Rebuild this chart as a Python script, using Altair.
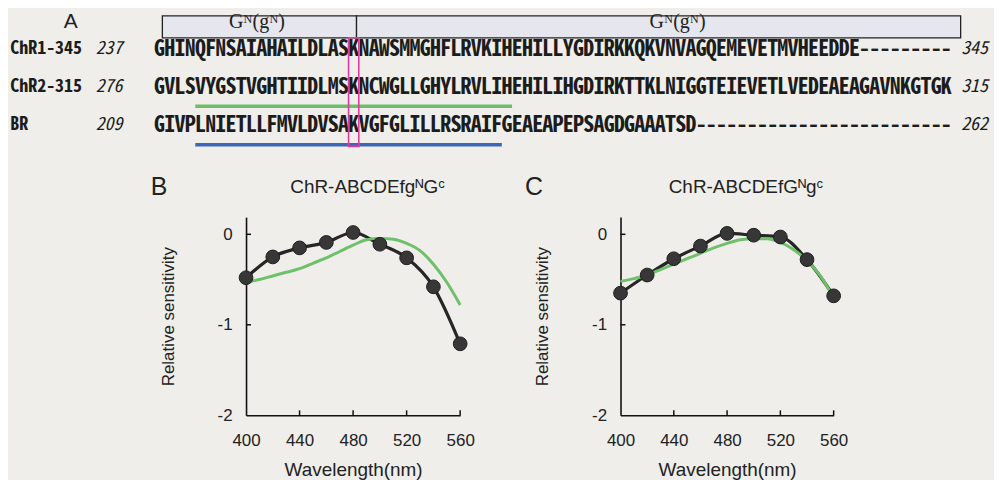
import altair as alt
import pandas as pd

# ---------------- Panel A : alignment ----------------
seq_names = ["ChR1-345", "ChR2-315", "BR"]
seq_start = ["237", "276", "209"]
seq_end = ["345", "315", "262"]
sequences = [
    "GHINQFNSAIAHAILDLASKNAWSMMGHFLRVKIHEHILLYGDIRKKQKVNVAGQEMEVETMVHEEDDE---------",
    "GVLSVYGSTVGHTIIDLMSKNCWGLLGHYLRVLIHEHILIHGDIRKTTKLNIGGTEIEVETLVEDEAEAGAVNKGTGK",
    "GIVPLNIETLLFMVLDVSAKVGFGLILLRSRAIFGEAEAPEPSAGDGAAATSD-------------------------",
]
rows = [0.0, 1.0, 2.0]

# header boxes (column units)
box_start = [0.78, 19.78]
box_end = [19.78, 78.9]
box_label = ["G\u1d3a(g\u1d3a)", "G\u1d3a(g\u1d3a)"]
box_label_col = [10.04, 51.2]

# underlines (row index, first column, last column+1)
ul_row = [1, 2]
ul_from = [4, 4]
ul_to = [35, 34]
ul_color = ["#6dbd6a", "#3c66b8"]

k_col = 19  # conserved K

# ---------------- Panels B, C : spectra ----------------
wl = [400, 420, 440, 460, 480, 500, 520, 540, 560]
b_meas = [-0.48, -0.25, -0.15, -0.09, 0.02, -0.11, -0.26, -0.58, -1.21]
c_meas = [-0.65, -0.45, -0.27, -0.13, 0.01, -0.01, -0.03, -0.28, -0.68]
wl_fine = [400, 410, 420, 430, 440, 450, 460, 470, 480, 490, 500, 510, 520, 530, 540, 550, 560]
b_green = [-0.53, -0.50, -0.46, -0.42, -0.38, -0.32, -0.26, -0.19, -0.12, -0.06, -0.045,
           -0.055, -0.10, -0.18, -0.33, -0.53, -0.78]
c_green = [-0.52, -0.49, -0.45, -0.39, -0.33, -0.27, -0.21, -0.15, -0.10, -0.06, -0.05,
           -0.05, -0.09, -0.17, -0.29, -0.46, -0.70]
x_ticks = [400, 440, 480, 520, 560]
y_ticks = [0, -1, -2]

BG = "#efeeea"
SEQ_FONT = "Noto Sans Mono CJK JP, Noto Sans CJK JP, Liberation Mono, monospace"
SANS = "Liberation Sans, Arial, sans-serif"

# ---------- build panel A ----------
chars = []
for r, s in zip(rows, sequences):
    for i, ch in enumerate(s):
        chars.append({"col": i + 0.5, "r": r, "ch": ch})
chars_df = pd.DataFrame(chars)

xs = alt.Scale(domain=[-14.327, 82.164], nice=False, zero=False)
ys = alt.Scale(domain=[-1.039, 2.857], nice=False, zero=False, reverse=True)


def AX(f):
    return alt.X(f, type="quantitative", scale=xs, axis=None)


def AY(f):
    return alt.Y(f, type="quantitative", scale=ys, axis=None)


seq_text = alt.Chart(chars_df).mark_text(
    font=SEQ_FONT, fontSize=22, fontWeight="bold", color="#1c1c1c", baseline="middle", align="center"
).encode(x=AX("col"), y=AY("r"), text="ch:N")

names_df = pd.DataFrame({"col": [-14.1] * 3, "r": rows, "t": seq_names})
names = alt.Chart(names_df).mark_text(
    font=SEQ_FONT, fontSize=18, fontWeight="bold", color="#1c1c1c", baseline="middle", align="left"
).encode(x=AX("col"), y=AY("r"), text="t:N")

start_df = pd.DataFrame({"col": [-3.12] * 3, "r": rows, "t": seq_start})
starts = alt.Chart(start_df).mark_text(
    font=SEQ_FONT, fontSize=18, fontStyle="italic", color="#1c1c1c", baseline="middle", align="right"
).encode(x=AX("col"), y=AY("r"), text="t:N")

end_df = pd.DataFrame({"col": [78.95] * 3, "r": rows, "t": seq_end})
ends = alt.Chart(end_df).mark_text(
    font=SEQ_FONT, fontSize=18, fontStyle="italic", color="#1c1c1c", baseline="middle", align="left"
).encode(x=AX("col"), y=AY("r"), text="t:N")

box_df = pd.DataFrame({"c0": box_start, "c1": box_end, "r0": [-0.857] * 2, "r1": [-0.286] * 2})
boxes = alt.Chart(box_df).mark_rect(fill="#e6e6ee", stroke="#222222", strokeWidth=1.3).encode(
    x=AX("c0"), x2="c1", y=AY("r0"), y2="r1"
)

blab_df = pd.DataFrame({"col": box_label_col, "r": [-0.53] * 2, "t": box_label})
blabs = alt.Chart(blab_df).mark_text(
    font="Liberation Serif, Times New Roman, serif", fontSize=20, color="#222222",
    baseline="alphabetic", align="center"
).encode(x=AX("col"), y=AY("r"), text="t:N")

ul_df = pd.DataFrame({"c0": ul_from, "c1": ul_to, "r": [r + 0.5 for r in ul_row], "c": ul_color})
ulines = alt.Chart(ul_df).mark_rule(strokeWidth=3.5).encode(
    x=AX("c0"), x2="c1", y=AY("r"), color=alt.Color("c:N", scale=None)
)

k_df = pd.DataFrame({"c0": [k_col], "c1": [k_col + 1], "r0": [-0.286], "r1": [2.545]})
kbox = alt.Chart(k_df).mark_rect(fillOpacity=0, stroke="#e2399a", strokeWidth=1.6).encode(
    x=AX("c0"), x2="c1", y=AY("r0"), y2="r1"
)

alab_df = pd.DataFrame({"col": [-8.19], "r": [-0.69], "t": ["A"]})
alab = alt.Chart(alab_df).mark_text(font=SANS, fontSize=21, color="#222222", baseline="middle", align="center").encode(
    x=AX("col"), y=AY("r"), text="t:N"
)

panelA = alt.layer(boxes, blabs, ulines, seq_text, kbox, names, starts, ends, alab).properties(width=990, height=150)


# ---------- build panels B and C ----------
def panel(meas, green, title, letter, title_x):
    X = alt.X(
        "wl:Q",
        scale=alt.Scale(domain=[400, 560], nice=False, zero=False),
        axis=alt.Axis(
            values=x_ticks, title="Wavelength(nm)", ticks=False, tickSize=0, grid=False,
            labelFlush=False,
            domainColor="#111111", domainWidth=1.6, labelFont=SANS, labelFontSize=17,
            labelColor="#222222", labelPadding=17, titleFont=SANS, titleFontSize=19,
            titleFontWeight="normal", titleColor="#222222", titlePadding=12,
        ),
    )
    Y = alt.Y(
        "v:Q",
        scale=alt.Scale(domain=[-2, 0.19], nice=False, zero=False),
        axis=alt.Axis(
            values=y_ticks, title="Relative sensitivity", ticks=False, tickSize=0, grid=False,
            labelFlush=False,
            domainColor="#111111", domainWidth=1.6, labelFont=SANS, labelFontSize=17,
            labelColor="#222222", labelPadding=14, labelExpr="'' + datum.value",
            titleFont=SANS, titleFontSize=17, titleFontWeight="normal", titleColor="#222222",
            titlePadding=40,
        ),
    )
    meas_df = pd.DataFrame({"wl": wl, "v": meas})
    green_df = pd.DataFrame({"wl": wl_fine, "v": green})
    black_line = alt.Chart(meas_df).mark_line(interpolate="monotone", color="#262626", strokeWidth=3.2).encode(x=X, y=Y)
    green_line = alt.Chart(green_df).mark_line(interpolate="monotone", color="#6fc06b", strokeWidth=3).encode(x=X, y=Y)
    pts = alt.Chart(meas_df).mark_circle(size=190, color="#373737", opacity=1, stroke="#1e1e1e", strokeWidth=1).encode(x=X, y=Y)
    xt_df = pd.DataFrame({"wl": x_ticks[1:], "v": [-2.0] * 4, "v2": [-1.945] * 4})
    xt = alt.Chart(xt_df).mark_rule(color="#111111", strokeWidth=1.5).encode(x=X, y=Y, y2="v2")
    yt_df = pd.DataFrame({"wl": [400] * 2, "wl2": [403.7] * 2, "v": [0, -1]})
    yt = alt.Chart(yt_df).mark_rule(color="#111111", strokeWidth=1.5).encode(x=X, x2="wl2", y=Y)
    t_df = pd.DataFrame({"wl": [title_x], "v": [0.52], "t": [title]})
    ttl = alt.Chart(t_df).mark_text(font=SANS, fontSize=19, color="#222222", baseline="middle", align="center").encode(
        x=X, y=Y, text="t:N"
    )
    l_df = pd.DataFrame({"wl": [335], "v": [0.52], "t": [letter]})
    lab = alt.Chart(l_df).mark_text(font=SANS, fontSize=25, color="#222222", baseline="middle", align="center").encode(
        x=X, y=Y, text="t:N"
    )
    return alt.layer(black_line, green_line, pts, xt, yt, ttl, lab)


panelB = panel(b_meas, b_green, "ChR-ABCDEfg\u1d3aG\u1d9c", "B", 490.8).properties(width=215, height=199)
panelC = panel(c_meas, c_green, "ChR-ABCDEfG\u1d3ag\u1d9c", "C", 494.2).properties(width=214, height=199)

spacer = alt.Chart(pd.DataFrame({"s": [0]})).mark_point(opacity=0).encode(
    x=alt.X("s:Q", axis=None), y=alt.Y("s:Q", axis=None)
).properties(width=78, height=199)

bottom = alt.hconcat(spacer, panelB, panelC, spacing=161, bounds="flush")
chart = alt.vconcat(panelA, bottom, spacing=59, bounds="flush").properties(
    padding=0, background=BG
).configure_view(strokeWidth=0)

chart.save("out.html", embed_options={"renderer": "svg", "actions": False})
